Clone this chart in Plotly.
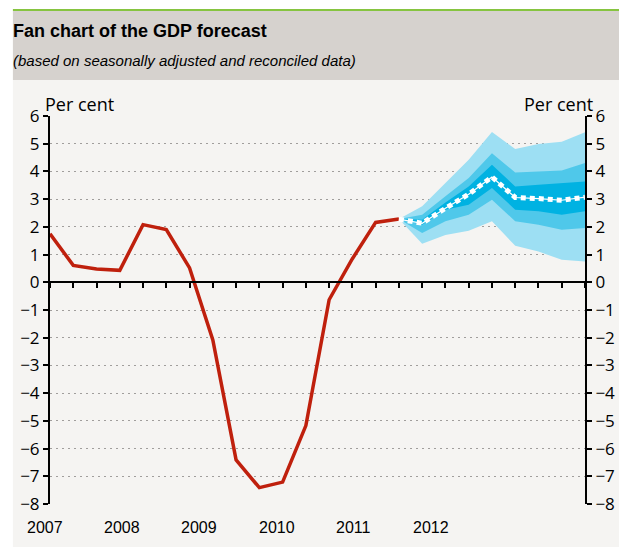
import plotly.graph_objects as go

# quarterly index: 0 = 2007 Q1 ... 23 = 2012 Q4
hist_x = list(range(16))
hist_y = [1.75, 0.61, 0.48, 0.43, 2.08, 1.90, 0.52, -2.08,
          -6.41, -7.41, -7.21, -5.17, -0.63, 0.85, 2.16, 2.28]

fan_x = list(range(15, 24))
median = [2.28, 2.13, 2.67, 3.18, 3.80, 3.06, 3.02, 2.96, 3.07]
outer_hi = [2.28, 2.74, 3.58, 4.42, 5.42, 4.81, 4.99, 5.07, 5.41]
outer_lo = [2.28, 1.39, 1.71, 1.86, 2.20, 1.32, 1.11, 0.81, 0.75]
mid_hi = [2.28, 2.44, 3.10, 3.76, 4.66, 3.96, 4.00, 4.03, 4.30]
mid_lo = [2.28, 1.78, 2.20, 2.44, 2.98, 2.20, 2.08, 1.90, 1.96]
inner_hi = [2.28, 2.26, 2.88, 3.46, 4.24, 3.46, 3.52, 3.58, 3.64]
inner_lo = [2.28, 2.08, 2.62, 2.80, 3.40, 2.62, 2.56, 2.44, 2.56]

years = ["2007", "2008", "2009", "2010", "2011", "2012"]
year_pos = [-0.21, 3.11, 6.42, 9.78, 13.05, 16.37]

FONT = "Liberation Sans, sans-serif"
TICKFONT = "Open Sans, sans-serif"

fig = go.Figure()

# fan bands, outer first
for hi, lo, col in [(outer_hi, outer_lo, "#9ddff3"),
                    (mid_hi, mid_lo, "#4fc8ea"),
                    (inner_hi, inner_lo, "#00b2e2")]:
    fig.add_trace(go.Scatter(
        x=fan_x + fan_x[::-1], y=hi + lo[::-1],
        fill="toself", fillcolor=col, line=dict(width=0),
        mode="lines", hoverinfo="skip", showlegend=False))

fig.add_trace(go.Scatter(x=hist_x, y=hist_y, mode="lines",
                         line=dict(color="#bf200d", width=3.5), showlegend=False))
fig.add_trace(go.Scatter(x=fan_x, y=median, mode="lines",
                         line=dict(color="white", width=1.2), showlegend=False))
fig.add_trace(go.Scatter(x=fan_x, y=median, mode="lines",
                         line=dict(color="white", width=5, dash="5px,4px"),
                         showlegend=False))
# dummy trace for right axis
fig.add_trace(go.Scatter(x=[0], y=[0], yaxis="y2", mode="markers",
                         marker=dict(opacity=0), showlegend=False, hoverinfo="skip"))

yax = dict(range=[-8, 6], dtick=1, tick0=0, showline=True, linecolor="black",
           linewidth=2, ticks="outside", ticklen=5, tickwidth=2, tickcolor="black",
           tickfont=dict(family=TICKFONT, size=17, color="black"), zeroline=False,
           fixedrange=True)

# page body adds an 8px offset, so the figure is 8px smaller than the window
fig.update_layout(
    width=619, height=541,
    margin=dict(l=36, r=35, t=108, b=45),
    paper_bgcolor="white", plot_bgcolor="#f5f4f2",
    xaxis=dict(range=[0, 23], tickvals=list(range(24)), showticklabels=False,
               anchor="free", position=8 / 14, showline=True, linecolor="black",
               linewidth=2, ticks="outside", ticklen=5, tickwidth=2,
               tickcolor="black", showgrid=False, zeroline=False),
    yaxis=dict(**yax, showgrid=True, gridcolor="#a09e9c", griddash="2px,4px", gridwidth=1.3),
    yaxis2=dict(**yax, overlaying="y", side="right", showgrid=False),
    shapes=[
        dict(type="rect", xref="paper", yref="paper", x0=(6 - 44) / 548, x1=(627 - 44) / 548,
             y0=(504 - 547) / 388, y1=(504 - 80) / 388, fillcolor="#f5f4f2",
             line=dict(width=0), layer="below"),
        dict(type="rect", xref="paper", yref="paper", x0=(6 - 44) / 548, x1=(627 - 44) / 548,
             y0=(504 - 80) / 388, y1=(504 - 11) / 388, fillcolor="#d6d2ce",
             line=dict(width=0), layer="below"),
        dict(type="line", xref="paper", yref="paper", x0=(6 - 44) / 548, x1=(627 - 44) / 548,
             y0=(504 - 10) / 388, y1=(504 - 10) / 388, line=dict(color="#86c440", width=2)),
    ],
)

fig.add_annotation(text="<b>Fan chart of the GDP forecast</b>", xref="paper", yref="paper",
                   x=(4 - 44) / 548, y=(504 - 31) / 388, xanchor="left", yanchor="middle",
                   showarrow=False, font=dict(family=FONT, size=18, color="black"))
fig.add_annotation(text="<i>(based on seasonally adjusted and reconciled data)</i>",
                   xref="paper", yref="paper", x=(4 - 44) / 548, y=(504 - 60) / 388,
                   xanchor="left", yanchor="middle", showarrow=False,
                   font=dict(family=FONT, size=15, color="black"))
fig.add_annotation(text="Per cent", xref="paper", yref="paper", x=(37 - 44) / 548,
                   y=(504 - 104) / 388, xanchor="left", yanchor="middle", showarrow=False,
                   font=dict(family=TICKFONT, size=18, color="black"))
fig.add_annotation(text="Per cent", xref="paper", yref="paper", x=(602 - 44) / 548,
                   y=(504 - 104) / 388, xanchor="right", yanchor="middle", showarrow=False,
                   font=dict(family=TICKFONT, size=18, color="black"))
for lab, pos in zip(years, year_pos):
    fig.add_annotation(text=lab, x=pos / 23, xref="paper", yref="paper", y=(504 - 527) / 388,
                       xanchor="center", yanchor="middle", showarrow=False,
                       font=dict(family=FONT, size=16, color="black"))

fig.write_html("out.html")
